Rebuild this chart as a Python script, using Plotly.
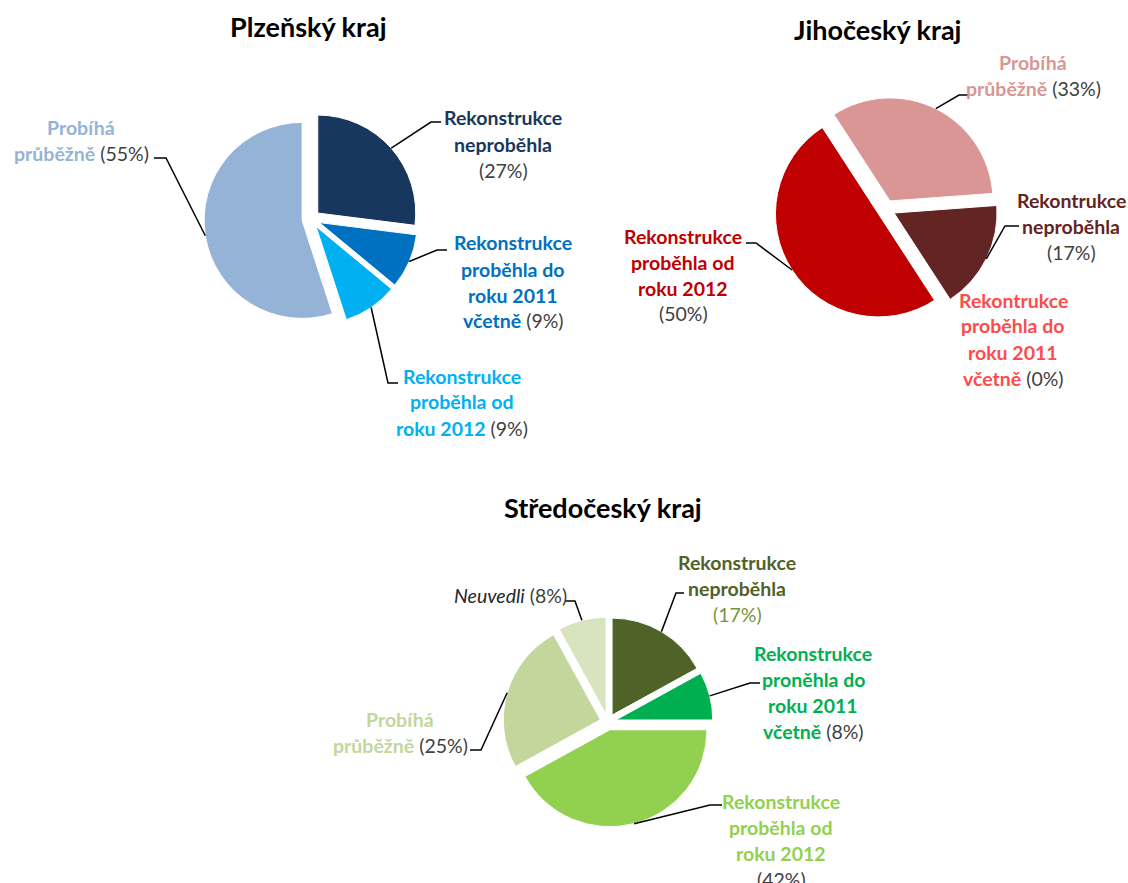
import math
import plotly.graph_objects as go

W, H = 1128, 883
FONT = "Lato"
PCT_COLOR = "#404040"

# ---- Plzeňský kraj ----
plz_title = "Plzeňský kraj"
plz_categories = ["Rekonstrukce|neproběhla", "Rekonstrukce|proběhla do|roku 2011|včetně",
                  "Rekonstrukce|proběhla od|roku 2012", "Probíhá|průběžně"]
plz_values = [27, 9, 9, 55]
plz_colors = ["#17375e", "#0070c0", "#00b0f0", "#95b3d7"]

# ---- Jihočeský kraj ----
jih_title = "Jihočeský kraj"
jih_categories = ["Probíhá|průběžně", "Rekontrukce|neproběhla",
                  "Rekontrukce|proběhla do|roku 2011|včetně", "Rekonstrukce|proběhla od|roku 2012"]
jih_values = [33, 17, 0, 50]
jih_colors = ["#d99694", "#632523", "#ff5050", "#c00000"]

# ---- Středočeský kraj ----
str_title = "Středočeský kraj"
str_categories = ["Rekonstrukce|neproběhla", "Rekonstrukce|proněhla do|roku 2011|včetně",
                  "Rekonstrukce|proběhla od|roku 2012", "Probíhá|průběžně", "Neuvedli"]
str_values = [17, 8, 42, 25, 8]
str_colors = ["#4f6228", "#00b050", "#92d050", "#c3d69b", "#d7e4bd"]


def px(x):
    return x / W


def py(y):
    return 1 - y / H


# Layout of each pie: centre (px), radius (px), pull (px), rotation, title position,
# and per-slice label placement: (centre x, first line y, pct on own line, leader tail, leader elbow, text colour, pct colour, italic)
charts = [
    dict(title=plz_title, title_pos=(308, 27), cats=plz_categories, vals=plz_values, cols=plz_colors,
         center=(311, 219), r=98, pull=9, rotation=0,
         labels=[
             (503, 118, True, (441, 122), (431, 122), "#17375e", PCT_COLOR, False),
             (513, 243, False, (447, 250), (437, 250), "#0070c0", PCT_COLOR, False),
             (462, 376, False, (398, 383), (388, 383), "#00b0f0", PCT_COLOR, False),
             (81, 127, False, (154, 158), (166, 158), "#95b3d7", PCT_COLOR, False),
         ]),
    dict(title=jih_title, title_pos=(877, 30), cats=jih_categories, vals=jih_values, cols=jih_colors,
         center=(886, 209), r=103, pull=9, rotation=-33,
         labels=[
             (1033, 62, False, (968, 95), (959, 95), "#d99694", PCT_COLOR, False),
             (1071, 200, True, (1019, 226), (1005, 226), "#632523", PCT_COLOR, False),
             (1013, 300, False, None, None, "#ff4b4b", PCT_COLOR, False),
             (683, 236, True, (746, 243), (756, 243), "#c00000", PCT_COLOR, False),
         ]),
    dict(title=str_title, title_pos=(603, 508), cats=str_categories, vals=str_values, cols=str_colors,
         center=(608, 722), r=97, pull=8, rotation=0,
         labels=[
             (737, 562, True, (684, 593), (676, 593), "#4f6228", "#77933c", False),
             (813, 653, False, (760, 683), (750, 683), "#00b050", PCT_COLOR, False),
             (781, 801, True, (722, 805), (710, 805), "#92d050", PCT_COLOR, False),
             (400, 719, False, (470, 750), (481, 750), "#c3d69b", PCT_COLOR, False),
             (510, 595, False, (565, 601), (575, 601), "#262626", PCT_COLOR, True),
         ]),
]

LINE_PITCH = 26
fig = go.Figure()
annotations = []
shapes = []

for ch in charts:
    cx, cy = ch["center"]
    r, pull_px = ch["r"], ch["pull"]
    pfrac = pull_px / r
    half = r * (1 + pfrac)
    fig.add_trace(go.Pie(
        labels=[c.replace("|", " ") for c in ch["cats"]],
        values=ch["vals"],
        marker=dict(colors=ch["cols"], line=dict(color="white", width=1)),
        pull=[pfrac] * len(ch["vals"]),
        sort=False, direction="clockwise", rotation=ch["rotation"],
        textinfo="none", hoverinfo="label+percent", showlegend=False,
        domain=dict(x=[px(cx - half), px(cx + half)], y=[py(cy + half), py(cy - half)]),
    ))
    annotations.append(dict(
        text=f"<b>{ch['title']}</b>", x=px(ch["title_pos"][0]), y=py(ch["title_pos"][1]),
        xref="paper", yref="paper", showarrow=False, xanchor="center", yanchor="middle",
        font=dict(family=FONT, size=27, color="black"),
    ))

    total = sum(ch["vals"])
    cum = 0
    for cat, val, lab in zip(ch["cats"], ch["vals"], ch["labels"]):
        lx, ly0, pct_own_line, tail, elbow, tcol, pcol, italic = lab
        mid = math.radians(ch["rotation"] + 360 * (cum + val / 2) / total)
        cum += val
        lines = cat.split("|")
        if italic:
            lines = [f"<i>{l}</i>" for l in lines]
        else:
            lines = [f"<b>{l}</b>" for l in lines]
        lines = [f"<span style='color:{tcol}'>{l}</span>" for l in lines]
        pct = f"<span style='color:{pcol}'>({val}%)</span>"
        if pct_own_line:
            lines.append(pct)
        else:
            lines[-1] = lines[-1] + " " + pct
        for i, line in enumerate(lines):
            annotations.append(dict(
                text=line, x=px(lx), y=py(ly0 + i * LINE_PITCH), xref="paper", yref="paper",
                showarrow=False, xanchor="center", yanchor="middle",
                font=dict(family=FONT, size=19.5, color=tcol),
            ))
        if tail is not None:
            dist = r + pull_px
            ex = cx + dist * math.sin(mid)
            ey = cy - dist * math.cos(mid)
            path = (f"M {px(tail[0])} {py(tail[1])} L {px(elbow[0])} {py(elbow[1])} "
                    f"L {px(ex)} {py(ey)}")
            shapes.append(dict(type="path", path=path, xref="paper", yref="paper",
                               line=dict(color="black", width=1.5)))

fig.update_layout(
    width=W, height=H, margin=dict(l=0, r=0, t=0, b=0),
    paper_bgcolor="white", plot_bgcolor="white",
    annotations=annotations, shapes=shapes,
    font=dict(family=FONT),
)
fig.write_html("out.html")
